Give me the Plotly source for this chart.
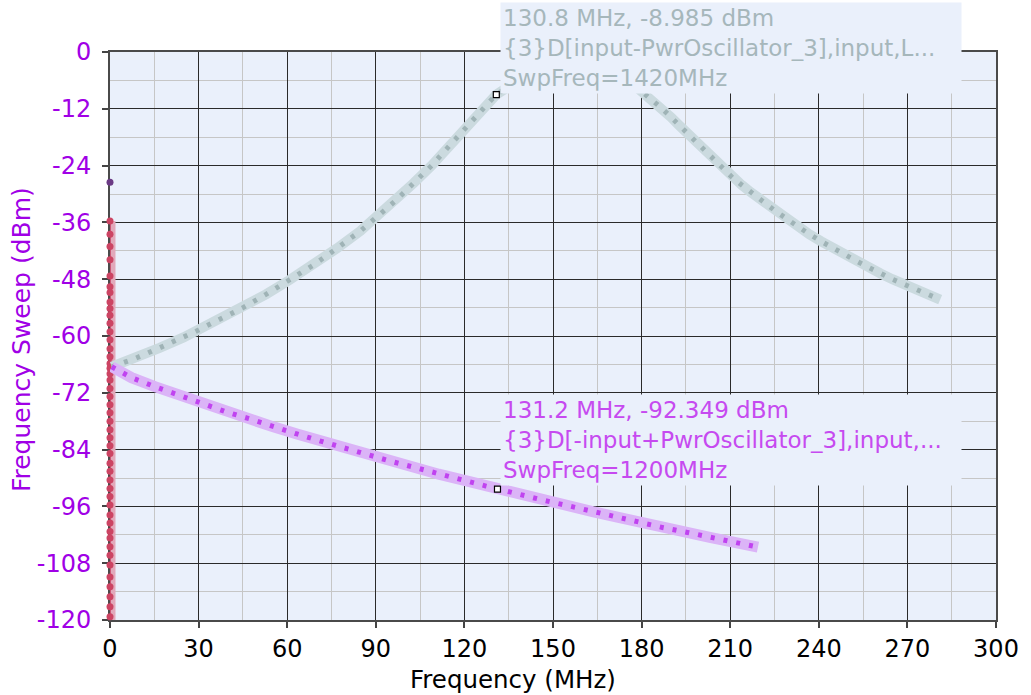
import plotly.graph_objects as go

# ---- data ----
upper_freq = [0.6, 8.7, 16.8, 24.9, 28.8, 36.7, 44.8, 52.8, 60.7, 68.9, 76.8, 84.8, 90.8,
              96.9, 102.8, 108.9, 114.8, 120.8, 126.9, 130.8, 135.0, 140.0, 156.0, 176.0,
              180.8, 183.9, 187.0, 190.0, 192.9, 195.8, 199.0, 201.9, 204.9, 207.9, 210.7,
              213.9, 216.9, 220.9, 224.9, 228.8, 232.8, 236.8, 240.8, 244.9, 248.9, 252.9,
              256.9, 260.9, 264.9, 269.0, 272.9, 276.9, 281.1]
upper_dbm = [-66.5, -64.7, -62.5, -60.3, -59.1, -56.6, -54.1, -51.2, -48.2, -45.0, -41.5, -37.8, -34.6,
             -31.3, -27.7, -24.0, -19.9, -15.6, -11.6, -8.985, -7.3, -4.6, 5.0, -6.2,
             -8.6, -10.3, -12.0, -13.8, -15.6, -17.4, -19.4, -21.2, -23.0, -24.8, -26.5,
             -28.1, -29.6, -31.5, -33.4, -35.1, -36.9, -38.5, -40.0, -41.5, -42.8, -44.2,
             -45.5, -46.8, -48.0, -49.1, -50.1, -51.2, -52.3]

lower_freq = [0.6, 7.3, 15.2, 23.3, 31.2, 39.2, 47.3, 55.3, 63.3, 71.3, 79.3, 87.3, 95.3,
              103.4, 111.3, 119.3, 127.3, 131.2, 139.3, 147.4, 155.4, 163.4, 171.4, 179.4,
              187.4, 195.5, 203.5, 211.5, 219.4]
lower_dbm = [-66.5, -68.8, -70.7, -72.5, -74.2, -76.0, -77.5, -79.2, -80.7, -82.2, -83.7, -85.1, -86.5,
             -87.8, -89.2, -90.4, -91.7, -92.349, -93.7, -94.8, -95.9, -97.1, -98.2, -99.4,
             -100.5, -101.5, -102.6, -103.6, -104.6]

dc_freq = [0] * 47
dc_dbm = [-35.7, -38.5, -41.1, -43.9, -47.3, -49.6, -50.8, -52.8, -54.2, -55.6, -57.3, -59.1,
          -60.8, -62.7, -64.4, -65.8, -66.8, -68.0, -69.3, -71.1, -72.8, -74.5, -76.2, -78.0,
          -79.8, -81.5, -83.2, -84.8, -86.9, -88.6, -90.4, -92.2, -93.9, -95.7, -97.8, -99.5,
          -101.3, -102.7, -104.5, -106.3, -108.4, -110.9, -113.0, -115.1, -117.2, -119.3, -120.4]

single_freq = [0]
single_dbm = [-27.5]

marker_freq = [130.8, 131.2]
marker_dbm = [-8.985, -92.349]

x_tick_vals = [0, 30, 60, 90, 120, 150, 180, 210, 240, 270, 300]
x_tick_text = ["0", "30", "60", "90", "120", "150", "180", "210", "240", "270", "300"]
x_minor_vals = [15, 45, 75, 105, 135, 165, 195, 225, 255, 285]
y_tick_vals = [0, -12, -24, -36, -48, -60, -72, -84, -96, -108, -120]
y_tick_text = ["0", "-12", "-24", "-36", "-48", "-60", "-72", "-84", "-96", "-108", "-120"]
y_minor_vals = [-6, -18, -30, -42, -54, -66, -78, -90, -102, -114]

label_upper = ["130.8 MHz, -8.985 dBm", "{3}D[input-PwrOscillator_3],input,L...", "SwpFreq=1420MHz"]
label_lower = ["131.2 MHz, -92.349 dBm", "{3}D[-input+PwrOscillator_3],input,...", "SwpFreq=1200MHz"]

x_title = "Frequency (MHz)"
y_title = "Frequency Sweep (dBm)"

FONT = "DejaVu Sans"
PURPLE_TXT = "#a000e6"
BG = "#eaf0fb"

fig = go.Figure()

# DC trace (red)
fig.add_trace(go.Scatter(x=dc_freq, y=dc_dbm, mode="lines",
                         line=dict(color="#e2a8ba", width=11), hoverinfo="skip", showlegend=False))
fig.add_trace(go.Scatter(x=dc_freq, y=dc_dbm, mode="lines+markers",
                         line=dict(color="#c03c5e", width=1.5),
                         marker=dict(color="#cc4463", size=7), cliponaxis=False, showlegend=False))

# upper (gray) trace
fig.add_trace(go.Scatter(x=upper_freq, y=upper_dbm, mode="lines",
                         line=dict(color="#cbdadf", width=10), hoverinfo="skip", showlegend=False))
fig.add_trace(go.Scatter(x=upper_freq, y=upper_dbm, mode="lines",
                         line=dict(color="#9fb3b6", width=5, dash="4px,9px"), showlegend=False))

# lower (purple) trace
fig.add_trace(go.Scatter(x=lower_freq, y=lower_dbm, mode="lines",
                         line=dict(color="#dbb4f7", width=11), hoverinfo="skip", showlegend=False))
fig.add_trace(go.Scatter(x=lower_freq, y=lower_dbm, mode="lines",
                         line=dict(color="#c043f0", width=5, dash="4px,9px"), showlegend=False))

# single point
fig.add_trace(go.Scatter(x=single_freq, y=single_dbm, mode="markers",
                         marker=dict(color="#6b3a85", size=7), cliponaxis=False, showlegend=False))

# marker squares
fig.add_trace(go.Scatter(x=marker_freq, y=marker_dbm, mode="markers",
                         marker=dict(symbol="square", color="white", size=6,
                                     line=dict(color="black", width=1.2)),
                         showlegend=False))

fig.update_layout(
    width=1031, height=695,
    margin=dict(l=110, r=28, t=52, b=75),
    paper_bgcolor="white", plot_bgcolor=BG,
    font=dict(family=FONT, size=24, color="black"),
    showlegend=False,
)

fig.update_xaxes(range=[0, 300], tickmode="array", tickvals=x_tick_vals, ticktext=x_tick_text,
                 showgrid=True, gridcolor="#2a2a2a", gridwidth=1.3,
                 minor=dict(tickmode="array", tickvals=x_minor_vals, showgrid=True,
                            gridcolor="#c6c6c6", gridwidth=1.3, ticks=""),
                 showline=True, linecolor="#4a4a4a", linewidth=2, mirror=True,
                 ticks="outside", ticklen=6, tickwidth=1.5, tickcolor="#444",
                 tickfont=dict(family=FONT, size=24, color="black"),
                 layer="below traces", zeroline=False)
fig.update_yaxes(range=[-120, 0], tickmode="array", tickvals=y_tick_vals, ticktext=y_tick_text,
                 showgrid=True, gridcolor="#2a2a2a", gridwidth=1.3,
                 minor=dict(tickmode="array", tickvals=y_minor_vals, showgrid=True,
                            gridcolor="#c6c6c6", gridwidth=1.3, ticks=""),
                 showline=True, linecolor="#4a4a4a", linewidth=2, mirror=True,
                 ticks="outside", ticklen=6, tickwidth=1.5, tickcolor="#444",
                 tickfont=dict(family=FONT, size=24, color=PURPLE_TXT),
                 ticklabelstandoff=6,
                 layer="below traces", zeroline=False)

fig.add_annotation(text="<br>".join(label_upper), xref="paper", yref="paper",
                   x=0.44, y=1.0872, xanchor="left", yanchor="top", align="left",
                   showarrow=False, bgcolor=BG, borderpad=2, width=456,
                   font=dict(family=FONT, size=23, color="#a6b7bb"))
fig.add_annotation(text="<br>".join(label_lower), xref="paper", yref="paper",
                   x=0.44, y=0.398, xanchor="left", yanchor="top", align="left",
                   showarrow=False, bgcolor=BG, borderpad=2, width=456,
                   font=dict(family=FONT, size=23, color="#c64af0"))

fig.add_annotation(text=x_title, xref="paper", yref="paper", x=0.4547, y=-0.104,
                   xanchor="center", yanchor="middle", showarrow=False,
                   font=dict(family=FONT, size=24.5, color="black"))
fig.add_annotation(text=y_title, xref="paper", yref="paper", x=-0.0997, y=0.494,
                   xanchor="center", yanchor="middle", textangle=-90, showarrow=False,
                   font=dict(family=FONT, size=25, color=PURPLE_TXT))

fig.write_html("out.html")
